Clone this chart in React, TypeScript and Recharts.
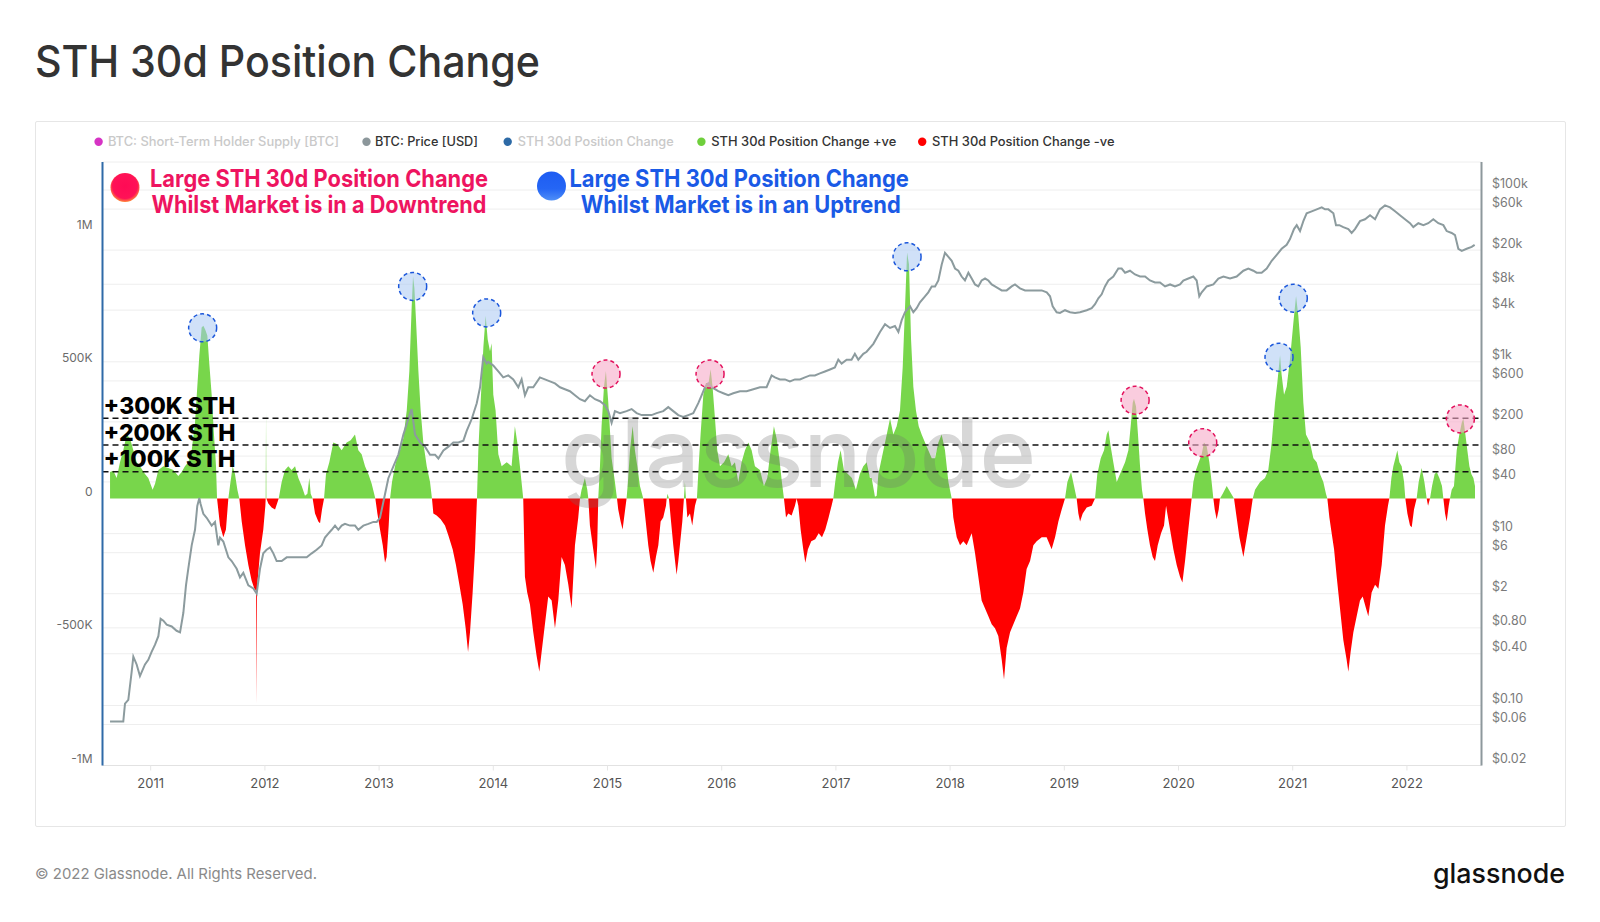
import React from 'react';
import { ComposedChart, Area, Line, XAxis, YAxis, CartesianGrid, ReferenceLine, ReferenceDot } from 'recharts';

type Pt = [number, number];

// STH 30d position change, [decimal year, thousands of BTC]
const change2010_2012: Pt[] = [
  [2010.644,99],[2010.673,104],[2010.702,77],[2010.731,136],[2010.760,181],[2010.790,240],[2010.819,225],[2010.848,181],[2010.877,136],[2010.906,121],[2010.950,92],[2010.979,77],[2011.017,33],[2011.038,55],[2011.067,107],[2011.111,121],[2011.154,114],[2011.198,107],[2011.242,84],[2011.271,99],[2011.300,121],[2011.329,136],[2011.359,181],[2011.388,284],[2011.408,418],[2011.426,536],[2011.446,640],[2011.461,647],[2011.478,632],[2011.496,610],[2011.513,506],[2011.534,388],[2011.554,240],[2011.572,121],[2011.581,0],[2011.607,-101],[2011.636,-145],[2011.659,-116],[2011.680,0],[2011.694,47],[2011.718,121],[2011.738,92],[2011.759,33],[2011.776,0],[2011.797,-86],[2011.826,-175],[2011.855,-249],[2011.884,-308],[2011.908,-338],[2011.922,-345],[2011.926,-767],[2011.930,-340],[2011.957,-204],[2011.986,-116],[2012.004,-27],[2012.007,0],[2012.010,325],[2012.013,0],[2012.030,-19],[2012.059,-34],[2012.089,-41],[2012.121,0],[2012.147,62],[2012.176,107],[2012.205,121],[2012.234,107],[2012.264,121],[2012.293,77],[2012.322,47],[2012.351,10],[2012.372,18],[2012.389,77],[2012.401,18],[2012.418,0],[2012.439,-56],[2012.468,-86],[2012.483,-93],[2012.500,-41],[2012.518,0],[2012.535,92],[2012.564,136],[2012.599,210],[2012.634,203],[2012.672,181],[2012.716,210],[2012.751,218],[2012.789,240],[2012.818,181],[2012.847,166],[2012.877,121],[2012.906,92],[2012.935,55],[2012.967,0],
];
const change2013_2014: Pt[] = [
  [2012.985,-56],[2013.008,-116],[2013.032,-175],[2013.052,-241],[2013.066,-219],[2013.084,-101],[2013.096,0],[2013.113,62],[2013.139,121],[2013.160,158],[2013.183,181],[2013.212,225],[2013.242,329],[2013.265,477],[2013.285,714],[2013.297,832],[2013.309,788],[2013.323,669],[2013.344,477],[2013.364,329],[2013.387,210],[2013.417,121],[2013.446,62],[2013.463,0],[2013.475,-56],[2013.504,-64],[2013.539,-78],[2013.577,-101],[2013.606,-138],[2013.644,-190],[2013.673,-249],[2013.703,-323],[2013.732,-397],[2013.758,-486],[2013.779,-575],[2013.796,-501],[2013.819,-352],[2013.840,-190],[2013.857,0],[2013.869,181],[2013.889,358],[2013.913,566],[2013.933,684],[2013.951,595],[2013.971,551],[2013.985,581],[2014.000,388],[2014.020,329],[2014.044,166],[2014.073,121],[2014.117,136],[2014.160,121],[2014.189,270],[2014.210,210],[2014.233,121],[2014.251,47],[2014.262,0],[2014.277,-293],[2014.297,-352],[2014.321,-397],[2014.350,-501],[2014.379,-589],[2014.403,-649],[2014.423,-575],[2014.452,-471],[2014.481,-367],[2014.511,-382],[2014.540,-486],[2014.569,-382],[2014.598,-219],[2014.627,-249],[2014.657,-323],[2014.686,-412],[2014.715,-175],[2014.744,-71],[2014.759,0],[2014.773,33],[2014.802,77],[2014.823,33],[2014.832,0],[2014.846,-101],[2014.875,-190],[2014.899,-264],[2014.910,-175],[2014.919,0],[2014.934,121],[2014.948,270],[2014.969,418],[2014.986,477],
];
const change2015_2016: Pt[] = [
  [2015.007,358],[2015.036,151],[2015.065,62],[2015.083,0],[2015.094,-41],[2015.115,-86],[2015.132,-116],[2015.150,-56],[2015.167,0],[2015.179,62],[2015.197,181],[2015.220,270],[2015.240,181],[2015.261,121],[2015.284,47],[2015.313,0],[2015.331,-71],[2015.357,-175],[2015.377,-234],[2015.401,-278],[2015.424,-219],[2015.445,-175],[2015.465,-86],[2015.488,-71],[2015.512,-27],[2015.518,0],[2015.526,18],[2015.538,0],[2015.553,-71],[2015.576,-175],[2015.605,-286],[2015.620,-234],[2015.634,-175],[2015.655,-86],[2015.669,0],[2015.678,62],[2015.687,0],[2015.699,-71],[2015.722,-56],[2015.742,-101],[2015.766,-27],[2015.783,0],[2015.798,121],[2015.815,240],[2015.839,388],[2015.862,432],[2015.885,432],[2015.903,484],[2015.920,418],[2015.941,299],[2015.961,181],[2015.985,121],[2016.020,136],[2016.058,166],[2016.087,121],[2016.116,136],[2016.145,62],[2016.174,136],[2016.204,181],[2016.233,210],[2016.262,181],[2016.291,121],[2016.335,107],[2016.370,47],[2016.399,77],[2016.428,181],[2016.457,270],[2016.481,225],[2016.504,151],[2016.527,62],[2016.545,0],[2016.563,-71],[2016.583,-56],[2016.612,-64],[2016.641,-27],[2016.656,0],[2016.671,-27],[2016.691,-116],[2016.714,-190],[2016.732,-241],[2016.755,-190],[2016.784,-160],[2016.819,-153],[2016.849,-130],[2016.878,-145],[2016.907,-116],[2016.936,-71],[2016.962,-27],[2016.977,0],
];
const change2017_2018: Pt[] = [
  [2016.994,62],[2017.018,136],[2017.041,181],[2017.070,107],[2017.105,92],[2017.140,77],[2017.175,33],[2017.210,92],[2017.240,121],[2017.269,136],[2017.298,77],[2017.313,77],[2017.342,6],[2017.357,10],[2017.372,92],[2017.401,151],[2017.445,240],[2017.474,299],[2017.503,240],[2017.532,270],[2017.561,329],[2017.585,492],[2017.605,714],[2017.623,921],[2017.640,877],[2017.658,595],[2017.678,418],[2017.701,329],[2017.725,270],[2017.751,240],[2017.780,210],[2017.809,181],[2017.839,151],[2017.868,151],[2017.897,210],[2017.926,240],[2017.955,181],[2017.985,62],[2018.014,0],[2018.028,-71],[2018.058,-145],[2018.087,-175],[2018.116,-160],[2018.145,-175],[2018.189,-130],[2018.218,-204],[2018.247,-293],[2018.276,-382],[2018.306,-412],[2018.335,-441],[2018.364,-471],[2018.393,-486],[2018.422,-515],[2018.452,-604],[2018.472,-678],[2018.495,-560],[2018.525,-501],[2018.554,-471],[2018.583,-441],[2018.612,-412],[2018.641,-352],[2018.670,-264],[2018.700,-234],[2018.729,-175],[2018.758,-160],[2018.802,-145],[2018.845,-145],[2018.889,-190],[2018.919,-145],[2018.948,-86],[2018.977,-41],[2019.006,0],
];
const change2019_2020: Pt[] = [
  [2019.027,62],[2019.059,99],[2019.085,47],[2019.108,0],[2019.123,-56],[2019.138,-86],[2019.161,-56],[2019.196,-34],[2019.240,-27],[2019.269,0],[2019.289,92],[2019.319,151],[2019.348,181],[2019.371,240],[2019.386,255],[2019.406,195],[2019.429,136],[2019.459,62],[2019.488,92],[2019.532,136],[2019.561,181],[2019.581,270],[2019.599,358],[2019.610,373],[2019.628,344],[2019.645,240],[2019.663,121],[2019.680,33],[2019.692,0],[2019.707,-56],[2019.727,-116],[2019.750,-175],[2019.774,-219],[2019.794,-234],[2019.818,-175],[2019.847,-130],[2019.873,-101],[2019.891,-27],[2019.902,-56],[2019.926,-116],[2019.955,-190],[2019.984,-249],[2020.013,-293],[2020.034,-315],[2020.057,-234],[2020.086,-116],[2020.115,0],[2020.130,62],[2020.153,107],[2020.177,136],[2020.203,166],[2020.223,210],[2020.247,195],[2020.270,136],[2020.290,62],[2020.305,0],[2020.317,-41],[2020.334,-78],[2020.352,-41],[2020.363,0],[2020.387,18],[2020.422,47],[2020.451,25],[2020.486,0],[2020.504,-56],[2020.533,-145],[2020.568,-219],[2020.597,-145],[2020.626,-71],[2020.650,0],[2020.670,33],[2020.714,62],[2020.757,77],[2020.786,107],[2020.816,210],[2020.845,358],[2020.865,432],[2020.889,536],[2020.903,462],[2020.924,388],[2020.947,418],[2020.976,521],
];
const change2021_2022: Pt[] = [
  [2021.005,655],[2021.029,758],[2021.049,684],[2021.070,566],[2021.093,358],[2021.116,240],[2021.151,210],[2021.181,151],[2021.210,136],[2021.239,92],[2021.268,62],[2021.291,18],[2021.303,0],[2021.321,-71],[2021.341,-130],[2021.362,-190],[2021.385,-293],[2021.414,-412],[2021.443,-530],[2021.472,-604],[2021.487,-649],[2021.507,-575],[2021.531,-501],[2021.560,-441],[2021.589,-382],[2021.613,-367],[2021.642,-412],[2021.662,-441],[2021.691,-352],[2021.721,-323],[2021.750,-338],[2021.779,-249],[2021.808,-101],[2021.834,-27],[2021.846,0],[2021.864,77],[2021.881,121],[2021.899,151],[2021.916,181],[2021.934,136],[2021.954,121],[2021.975,62],[2021.986,0],[2022.004,-56],[2022.027,-101],[2022.042,-108],[2022.062,-41],[2022.085,0],[2022.103,62],[2022.129,114],[2022.153,62],[2022.173,0],[2022.185,-27],[2022.202,0],[2022.220,47],[2022.243,92],[2022.261,99],[2022.284,77],[2022.307,47],[2022.319,0],[2022.334,-56],[2022.348,-86],[2022.366,-27],[2022.377,0],[2022.392,33],[2022.412,47],[2022.436,181],[2022.459,240],[2022.480,284],[2022.494,299],[2022.512,240],[2022.529,181],[2022.547,121],[2022.564,92],[2022.582,77],[2022.596,47],
];

// BTC price, [decimal year, USD]
const price2010_2012: Pt[] = [
  [2010.644,0.065],[2010.760,0.065],[2010.775,0.105],[2010.804,0.116],[2010.833,0.245],[2010.848,0.37],[2010.877,0.30],[2010.906,0.22],[2010.950,0.30],[2010.979,0.34],[2011.008,0.42],[2011.038,0.51],[2011.067,0.64],[2011.087,1.02],[2011.111,0.97],[2011.140,0.87],[2011.184,0.83],[2011.227,0.74],[2011.257,0.71],[2011.286,1.2],[2011.309,2.5],[2011.329,3.9],[2011.359,7.3],[2011.388,11.1],[2011.408,21],[2011.426,26],[2011.437,22.1],[2011.461,17],[2011.490,15.3],[2011.534,12.4],[2011.563,13.7],[2011.592,7.3],[2011.607,9.0],[2011.636,8.1],[2011.680,5.3],[2011.709,4.8],[2011.753,3.9],[2011.782,3.1],[2011.811,3.5],[2011.855,2.5],[2011.899,2.3],[2011.928,2.0],[2011.957,3.9],[2011.986,5.9],[2012.015,6.5],[2012.045,6.9],[2012.074,5.9],[2012.103,4.8],[2012.147,4.8],[2012.191,5.3],[2012.249,5.3],[2012.307,5.3],[2012.366,5.3],[2012.410,5.9],[2012.453,6.5],[2012.497,7.3],[2012.526,9.0],[2012.555,10.0],[2012.585,11.1],[2012.614,12.4],[2012.643,11.1],[2012.672,12.4],[2012.701,13.0],[2012.745,12.4],[2012.789,12.4],[2012.818,11.1],[2012.862,12.4],[2012.906,13.0],[2012.950,13.7],[2012.979,13.7],
];
const price2013_2014: Pt[] = [
  [2013.008,15.3],[2013.052,28.9],[2013.081,44.2],[2013.125,60.7],[2013.169,83.4],[2013.212,142],[2013.256,216],[2013.285,282],[2013.315,142],[2013.359,115],[2013.402,103],[2013.446,83],[2013.490,83],[2013.519,75],[2013.563,93],[2013.607,103],[2013.650,115],[2013.694,115],[2013.738,121],[2013.767,157],[2013.811,216],[2013.855,330],[2013.884,506],[2013.912,1130],[2013.942,955],[2013.956,1000],[2014.000,906],[2014.044,773],[2014.087,659],[2014.131,695],[2014.175,625],[2014.219,506],[2014.248,625],[2014.277,408],[2014.306,506],[2014.350,506],[2014.408,659],[2014.452,625],[2014.496,593],[2014.540,562],[2014.584,506],[2014.627,480],[2014.671,455],[2014.715,408],[2014.759,367],[2014.802,348],[2014.846,408],[2014.890,367],[2014.934,348],[2014.978,313],
];
const price2015_2016: Pt[] = [
  [2015.007,267],[2015.036,195],[2015.065,267],[2015.109,253],[2015.167,267],[2015.211,282],[2015.255,253],[2015.299,240],[2015.342,240],[2015.386,240],[2015.430,253],[2015.488,267],[2015.532,297],[2015.576,267],[2015.620,240],[2015.663,228],[2015.707,240],[2015.751,253],[2015.795,330],[2015.824,408],[2015.853,506],[2015.882,562],[2015.912,506],[2015.941,480],[2015.970,455],[2016.014,431],[2016.058,408],[2016.101,431],[2016.160,455],[2016.218,455],[2016.277,480],[2016.335,506],[2016.393,506],[2016.437,695],[2016.466,659],[2016.510,625],[2016.554,625],[2016.597,593],[2016.641,625],[2016.685,625],[2016.729,659],[2016.773,695],[2016.816,695],[2016.860,733],[2016.904,773],[2016.948,815],[2016.991,859],
];
const price2017_2018: Pt[] = [
  [2017.021,1060],[2017.050,955],[2017.094,1060],[2017.137,1060],[2017.166,1240],[2017.196,1060],[2017.240,1240],[2017.269,1310],[2017.328,1620],[2017.386,2230],[2017.430,2750],[2017.474,2480],[2017.517,2610],[2017.547,2230],[2017.576,3060],[2017.605,3780],[2017.649,4440],[2017.678,3780],[2017.707,4210],[2017.736,4930],[2017.780,5790],[2017.809,6440],[2017.839,7550],[2017.868,7550],[2017.897,8850],[2017.926,13500],[2017.955,18600],[2017.985,16700],[2018.014,15000],[2018.043,12200],[2018.072,11500],[2018.101,9840],[2018.130,8850],[2018.160,10900],[2018.189,9330],[2018.218,7960],[2018.247,7550],[2018.276,8850],[2018.306,9330],[2018.335,8850],[2018.364,7960],[2018.393,7550],[2018.422,7160],[2018.452,6790],[2018.495,6790],[2018.539,7550],[2018.568,7960],[2018.612,7160],[2018.656,6790],[2018.700,6790],[2018.758,6790],[2018.802,6790],[2018.846,6440],[2018.875,5790],[2018.898,4440],[2018.933,3780],[2018.962,3710],
];
const price2019_2020: Pt[] = [
  [2019.006,3990],[2019.050,3780],[2019.094,3710],[2019.137,3780],[2019.196,3990],[2019.240,4210],[2019.269,4680],[2019.298,5500],[2019.327,6110],[2019.356,7550],[2019.386,8850],[2019.429,9840],[2019.473,12200],[2019.502,12200],[2019.532,10900],[2019.575,11500],[2019.619,10400],[2019.663,9840],[2019.707,9840],[2019.750,8850],[2019.794,8390],[2019.838,8390],[2019.882,7550],[2019.926,7960],[2019.969,7550],[2020.013,7960],[2020.042,8850],[2020.086,9330],[2020.130,9840],[2020.159,8850],[2020.182,5790],[2020.203,6440],[2020.247,7550],[2020.305,7960],[2020.349,9330],[2020.393,9840],[2020.451,9330],[2020.509,9840],[2020.568,11500],[2020.611,12200],[2020.655,11500],[2020.684,10900],[2020.728,10900],[2020.772,12200],[2020.816,15000],[2020.860,17600],[2020.903,20700],[2020.947,23000],[2020.976,26900],
];
const price2021_2022: Pt[] = [
  [2021.011,35100],[2021.035,39000],[2021.064,33300],[2021.093,43400],[2021.122,53600],[2021.166,56500],[2021.210,59600],[2021.254,62800],[2021.283,59600],[2021.312,59600],[2021.356,53600],[2021.379,39000],[2021.408,39000],[2021.443,37000],[2021.487,35100],[2021.516,31600],[2021.545,35100],[2021.589,43400],[2021.633,45700],[2021.677,50800],[2021.721,45700],[2021.764,59600],[2021.808,66200],[2021.852,62800],[2021.896,56500],[2021.939,50800],[2021.983,45700],[2022.027,41100],[2022.056,37000],[2022.100,41100],[2022.144,39000],[2022.187,41100],[2022.231,45700],[2022.275,41100],[2022.319,39000],[2022.348,33300],[2022.392,31600],[2022.421,29900],[2022.450,20700],[2022.480,19600],[2022.523,20700],[2022.567,21800],[2022.593,23000],
];

// Highlighted peaks, [decimal year, thousands of BTC]
const uptrendMarks: Pt[] = [[2011.455,639],[2013.294,794],[2013.942,695],[2017.623,905],[2020.880,529],[2021.005,750]];
const downtrendMarks: Pt[] = [[2014.987,466],[2015.898,466],[2019.620,368],[2020.212,209],[2022.468,298]];

const thresholds = [300000, 200000, 100000];
const thresholdLabels = ['+300K STH', '+200K STH', '+100K STH'];

const yearTicks = [2011, 2012, 2013, 2014, 2015, 2016, 2017, 2018, 2019, 2020, 2021, 2022];
const xDomain: [number, number] = [2010.578, 2022.653];
const leftTicks = [-1000000, -500000, 0, 500000, 1000000];
const leftTickLabels = ['-1M', '-500K', '0', '500K', '1M'];
const leftDomain: [number, number] = [-1000000, 1260000];
const priceTicks = [0.02, 0.06, 0.1, 0.4, 0.8, 2, 6, 10, 40, 80, 200, 600, 1000, 4000, 8000, 20000, 60000, 100000];
const priceTickLabels = ['$0.02', '$0.06', '$0.10', '$0.40', '$0.80', '$2', '$6', '$10', '$40', '$80', '$200', '$600', '$1k', '$4k', '$8k', '$20k', '$60k', '$100k'];
const priceDomain: [number, number] = [0.02, 212000];

const legendItems = [
  { name: 'BTC: Short-Term Holder Supply [BTC]', color: '#d633c4', active: false, dot: 98.6, x: 107.9, w: 231 },
  { name: 'BTC: Price [USD]', color: '#8c979b', active: true, dot: 366.5, x: 375, w: 103 },
  { name: 'STH 30d Position Change', color: '#2d6aa6', active: false, dot: 507.7, x: 517.7, w: 156 },
  { name: 'STH 30d Position Change +ve', color: '#6fcf3c', active: true, dot: 701.4, x: 711.3, w: 185 },
  { name: 'STH 30d Position Change -ve', color: '#ff0000', active: true, dot: 922.2, x: 932, w: 182.5 },
];

const changeAll = [...change2010_2012, ...change2013_2014, ...change2015_2016, ...change2017_2018, ...change2019_2020, ...change2021_2022];
const changeRows = changeAll.map(([t, k]) => ({ t, pos: k > 0 ? k * 1000 : 0, neg: k < 0 ? k * 1000 : 0 }));
const priceAll = [...price2010_2012, ...price2013_2014, ...price2015_2016, ...price2017_2018, ...price2019_2020, ...price2021_2022];
const priceRows = priceAll.map(([t, p]) => ({ t, price: p }));

const FONT = "Inter, 'Noto Sans', sans-serif";

const LeftTick = (props: any) => {
  const { x, y, payload } = props;
  const i = leftTicks.indexOf(payload.value);
  return (
    <text x={x} y={y - 7} textAnchor="end" dominantBaseline="central" fontSize={12} fill="#6b6b6b" fontFamily={FONT}>
      {i >= 0 ? leftTickLabels[i] : ''}
    </text>
  );
};
const RightTick = (props: any) => {
  const { x, y, payload } = props;
  const i = priceTicks.indexOf(payload.value);
  return (
    <text x={x} y={y - 7} textAnchor="start" dominantBaseline="central" fontSize={12.5} fill="#7a7a7a" fontFamily={FONT}>
      {i >= 0 ? priceTickLabels[i] : ''}
    </text>
  );
};
const BottomTick = (props: any) => {
  const { x, y, payload } = props;
  return (
    <text x={x} y={y} textAnchor="middle" dominantBaseline="central" fontSize={13} fill="#555" fontFamily={FONT}>
      {String(payload.value)}
    </text>
  );
};
const ThresholdLabel = (props: any) => {
  const vb = props.viewBox || {};
  const x = typeof vb.x === 'number' ? vb.x : 102.5;
  const y = typeof vb.y === 'number' ? vb.y : 0;
  return (
    <text x={x + 1} y={y - 4.5} fontFamily={FONT} fontWeight={800} fontSize={23} fill="#000" textLength={132} lengthAdjust="spacingAndGlyphs">
      {props.value}
    </text>
  );
};

export default function App() {
  return (
    <div style={{ position: 'absolute', left: 0, top: 0, width: 1600, height: 922, background: '#fff', overflow: 'hidden' }}>
      <div style={{ position: 'absolute', left: 35, top: 121, width: 1529, height: 704, border: '1px solid #e6e6e6', borderRadius: 2 }} />
      <div style={{ position: 'absolute', left: 0, top: 0 }}>
        <ComposedChart width={1600} height={922} data={changeRows} margin={{ top: 162, right: 18.5, bottom: 126.5, left: 2.5 }}>
          <CartesianGrid yAxisId="price" vertical={false} stroke="#eeeeee" strokeWidth={1} />
          <XAxis dataKey="t" type="number" domain={xDomain} allowDataOverflow ticks={yearTicks} tick={BottomTick}
            tickSize={5} tickMargin={12} height={30} axisLine={{ stroke: '#e2e2e2' }} tickLine={{ stroke: '#e6e6e6' }} interval={0} />
          <YAxis yAxisId="left" orientation="left" domain={leftDomain} allowDataOverflow ticks={leftTicks} tick={LeftTick}
            width={100} tickSize={0} tickMargin={10} tickLine={false} axisLine={{ stroke: '#2f6aa8', strokeWidth: 2 }} interval={0} />
          <YAxis yAxisId="price" orientation="right" scale="log" domain={priceDomain} allowDataOverflow ticks={priceTicks} tick={RightTick}
            width={100} tickSize={0} tickMargin={10.5} tickLine={false} axisLine={{ stroke: '#8d989c', strokeWidth: 2 }} interval={0} />
          <Area yAxisId="left" type="linear" dataKey="pos" baseValue={0} stroke="none" fill="#78d64b" fillOpacity={1} isAnimationActive={false} dot={false} activeDot={false} />
          <Area yAxisId="left" type="linear" dataKey="neg" baseValue={0} stroke="none" fill="#ff0000" fillOpacity={1} isAnimationActive={false} dot={false} activeDot={false} />
          <Line yAxisId="price" data={priceRows} type="linear" dataKey="price" stroke="#8c9b9e" strokeWidth={2} dot={false} activeDot={false} isAnimationActive={false} />
          {thresholds.map((v, i) => (
            <ReferenceLine key={v} yAxisId="left" y={v} stroke="#111" strokeWidth={1.5} strokeDasharray="6 4"
              label={{ value: thresholdLabels[i], content: ThresholdLabel }} />
          ))}
          {uptrendMarks.map(([t, k]) => (
            <ReferenceDot key={'u' + t} yAxisId="left" x={t} y={k * 1000} r={14} fill="rgba(170,200,242,0.55)" stroke="#1a56db"
              strokeWidth={1.5} strokeDasharray="4 3" ifOverflow="visible" />
          ))}
          {downtrendMarks.map(([t, k]) => (
            <ReferenceDot key={'d' + t} yAxisId="left" x={t} y={k * 1000} r={14} fill="rgba(246,170,200,0.6)" stroke="#e3105c"
              strokeWidth={1.5} strokeDasharray="4 3" ifOverflow="visible" />
          ))}
        </ComposedChart>
      </div>
      <svg width={1600} height={922} style={{ position: 'absolute', left: 0, top: 0, pointerEvents: 'none' }}>
        <defs>
          <radialGradient id="redDot" cx="50%" cy="45%" r="55%">
            <stop offset="0%" stopColor="#ff0a55" />
            <stop offset="78%" stopColor="#ff1257" />
            <stop offset="100%" stopColor="#ff8a3a" />
          </radialGradient>
          <linearGradient id="blueDot" x1="0" y1="0" x2="0" y2="1">
            <stop offset="0%" stopColor="#1d5cf2" />
            <stop offset="60%" stopColor="#2566f5" />
            <stop offset="100%" stopColor="#4f8ff7" />
          </linearGradient>
        </defs>
        <text x={35} y={76.7} fontFamily={FONT} fontSize={44} fontWeight={500} fill="#333" textLength={505} lengthAdjust="spacingAndGlyphs">STH 30d Position Change</text>
        {legendItems.map((it) => (
          <g key={it.name}>
            <circle cx={it.dot} cy={141.7} r={4.2} fill={it.color} />
            <text x={it.x} y={141.7} dominantBaseline="central" fontFamily={FONT} fontSize={12.5} fontWeight={500}
              fill={it.active ? '#333' : '#c9c9c9'} textLength={it.w} lengthAdjust="spacingAndGlyphs">{it.name}</text>
          </g>
        ))}
        <circle cx={125} cy={187.5} r={14.5} fill="url(#redDot)" />
        <text x={150} y={186.7} fontFamily={FONT} fontSize={24} fontWeight={700} fill="#ee1460" textLength={338} lengthAdjust="spacingAndGlyphs">Large STH 30d Position Change</text>
        <text x={151.5} y={212.7} fontFamily={FONT} fontSize={24} fontWeight={700} fill="#ee1460" textLength={335} lengthAdjust="spacingAndGlyphs">Whilst Market is in a Downtrend</text>
        <circle cx={551.5} cy={186} r={14.5} fill="url(#blueDot)" />
        <text x={569.4} y={186.7} fontFamily={FONT} fontSize={24} fontWeight={700} fill="#1a5ae6" textLength={339.5} lengthAdjust="spacingAndGlyphs">Large STH 30d Position Change</text>
        <text x={580.7} y={212.7} fontFamily={FONT} fontSize={24} fontWeight={700} fill="#1a5ae6" textLength={320} lengthAdjust="spacingAndGlyphs">Whilst Market is in an Uptrend</text>
        <text x={561} y={487} fontFamily={FONT} fontSize={96} fontWeight={500} fill="rgb(110,110,110)" opacity={0.27} textLength={475} lengthAdjust="spacingAndGlyphs">glassnode</text>
        <text x={35} y={873.5} dominantBaseline="central" fontFamily={FONT} fontSize={15} fill="#8a8a8a" textLength={282} lengthAdjust="spacingAndGlyphs">© 2022 Glassnode. All Rights Reserved.</text>
        <text x={1433} y={883.3} fontFamily={FONT} fontSize={27.5} fontWeight={500} fill="#111" textLength={132} lengthAdjust="spacingAndGlyphs">glassnode</text>
      </svg>
    </div>
  );
}
